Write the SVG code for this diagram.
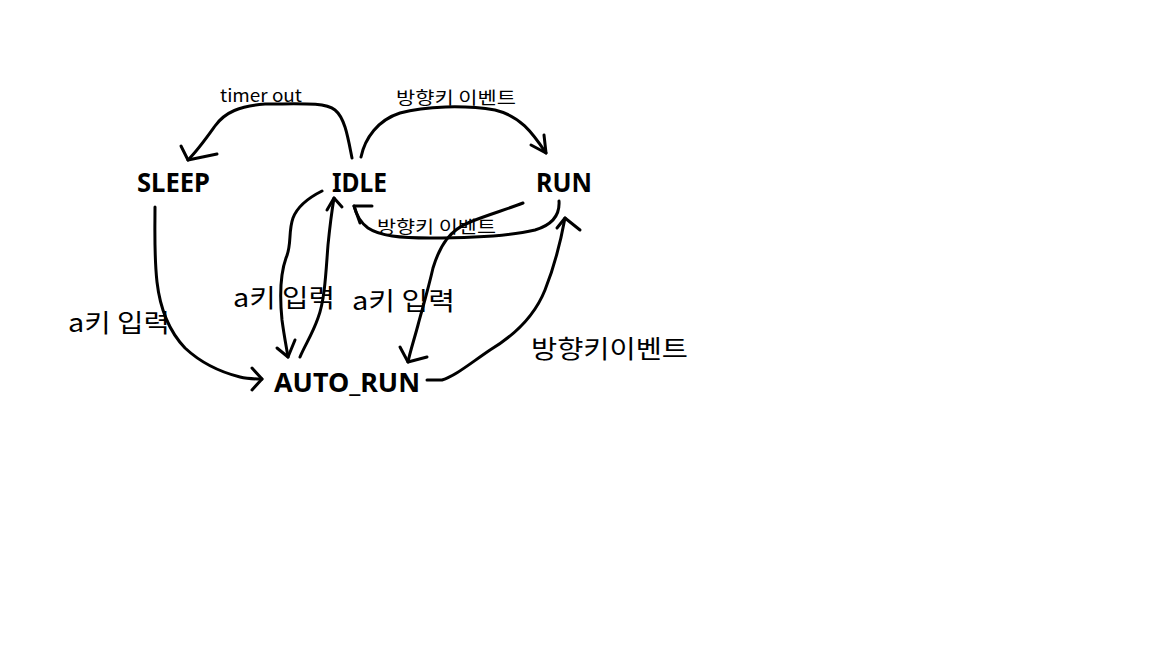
<svg xmlns="http://www.w3.org/2000/svg" width="1152" height="648" viewBox="0 0 1152 648">
<style>
.node{font-family:"Noto Sans","Noto Sans CJK KR",sans-serif;font-weight:bold;font-size:26px;fill:#000}
.lbl{font-family:"Noto Sans CJK KR","Noto Sans",sans-serif;fill:#000}
.s{font-size:17px}
.l{font-size:25px}
.c path{fill:none;stroke:#000;stroke-width:3;stroke-linecap:round;stroke-linejoin:round}
</style>
<rect width="1152" height="648" fill="#fff"/>
<g class="c" id="connectors">
<path d="M352,158 C348,138 345,118 335,110 C325,102 300,104 265,104 C240,106 225,112 215,126 C205,140 198,150 188,160"/>
<path d="M181,146 L188,160 L217,154"/>
<path d="M361,157 C365,138 378,120 400,113 C425,106 465,105 495,110 C520,116 532,132 546,153"/>
<path d="M531,145 L546,153 L544,135"/>
<path d="M559,201 C560,215 552,225 535,230 C505,237 465,238 430,238 C400,238 380,236 368,228 C360,222 356,214 354,206"/>
<path d="M372,206 L354,206 L360,223"/>
<path d="M523,203 C505,210 490,214 470,222 C450,230 440,245 433,268 C428,290 422,310 418,325 C414,340 410,352 408,362"/>
<path d="M400,347 L408,362 L427,357"/>
<path d="M427,380 L442,380 C455,376 468,365 490,350 C515,335 535,315 545,290 C555,265 560,245 565,218"/>
<path d="M557,228 L565,218 L580,230"/>
<path d="M322,191 C310,197 298,205 293,218 C288,232 292,245 286,258 C280,275 280,300 282,320 C284,335 286,345 288,357"/>
<path d="M277,348 L288,357 L295,340"/>
<path d="M300,357 C305,345 312,335 318,318 C325,300 326,270 328,245 C330,225 332,210 334,198"/>
<path d="M327,210 L334,198 L342,207"/>
<path d="M155,207 C155,230 154,255 157,282 C160,308 168,330 185,348 C200,362 220,372 240,377 C248,379 255,379 262,379"/>
<path d="M252,368 L262,379 L252,390"/>
</g>
<g id="SLEEP"><text class="node" x="137" y="192" textLength="73" lengthAdjust="spacingAndGlyphs">SLEEP</text></g>
<g id="IDLE"><text class="node" x="332" y="192" textLength="55" lengthAdjust="spacingAndGlyphs">IDLE</text></g>
<g id="RUN"><text class="node" x="536" y="192" textLength="56" lengthAdjust="spacingAndGlyphs">RUN</text></g>
<g id="AUTO_RUN"><text class="node" x="274" y="392" textLength="146" lengthAdjust="spacingAndGlyphs">AUTO_RUN</text></g>
<g id="labels">
<text class="lbl s" x="220" y="102" textLength="82" lengthAdjust="spacingAndGlyphs">timer out</text>
<text class="lbl s" x="396" y="104" textLength="120" lengthAdjust="spacingAndGlyphs">방향키 이벤트</text>
<text class="lbl s" x="377" y="233" textLength="119" lengthAdjust="spacingAndGlyphs">방향키 이벤트</text>
<text class="lbl l" x="233" y="307" textLength="102" lengthAdjust="spacingAndGlyphs">a키 입력</text>
<text class="lbl l" x="352" y="310" textLength="103" lengthAdjust="spacingAndGlyphs">a키 입력</text>
<text class="lbl l" x="68" y="332" textLength="102" lengthAdjust="spacingAndGlyphs">a키 입력</text>
<text class="lbl l" x="531" y="358" textLength="157" lengthAdjust="spacingAndGlyphs">방향키이벤트</text>
</g>
</svg>
